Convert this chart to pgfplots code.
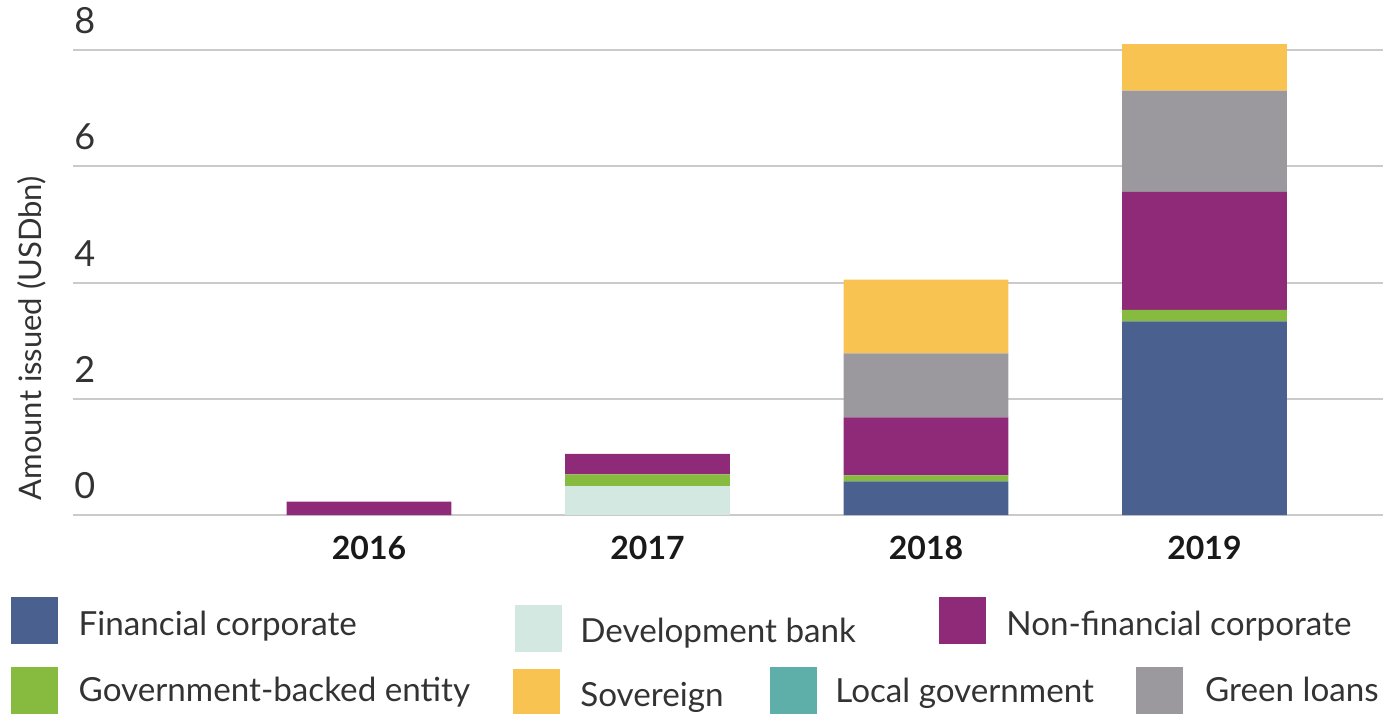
\documentclass[border=0pt]{standalone}
\usepackage{pgfplots}
\pgfplotsset{compat=1.18}
\usepackage{fontspec}
\setmainfont{Lato}

\definecolor{fincorp}{HTML}{4A6190}
\definecolor{devbank}{HTML}{D3E8E0}
\definecolor{nonfin}{HTML}{8E2A77}
\definecolor{govback}{HTML}{86BB3F}
\definecolor{sovereign}{HTML}{F9C352}
\definecolor{localgov}{HTML}{5EAEAA}
\definecolor{greenloan}{HTML}{9B989E}
\definecolor{gridgray}{HTML}{CACACA}
\definecolor{darktext}{HTML}{333333}

\newcommand{\legfont}{\fontsize{16.6}{19}\selectfont}

\begin{document}
\begin{tikzpicture}
\useasboundingbox (-36.5pt,-99.5pt) rectangle (655pt,257.5pt);
\begin{axis}[
    at={(0pt,0pt)}, anchor=south west,
    width=655pt, height=232.5pt, scale only axis,
    xmin=-0.063, xmax=4.641, ymin=0, ymax=8,
    clip=false,
    ybar stacked, bar width=0.592,
    axis line style={draw=none},
    major tick length=0pt,
    ytick={0,2,4,6,8},
    ymajorgrids, grid style={line width=1pt, gridgray},
    xtick={1,2,3,4}, xticklabels={2016,2017,2018,2019},
    xticklabel style={font=\fontsize{16}{19}\selectfont\bfseries, text=black!90,
        anchor=center, inner sep=0pt, yshift=-16.5pt},
    yticklabel style={font=\fontsize{18}{21}\selectfont, text=darktext,
        anchor=south west, inner sep=0pt, xshift=0.5pt, yshift=7.8pt},
    ylabel={Amount issued (USDbn)},
    ylabel style={font=\fontsize{15.5}{18}\selectfont, text=darktext,
        at={(axis description cs:-0.0313,0.38)}, anchor=center},
    /pgf/number format/assume math mode=true,
]
% 2016, 2017, 2018, 2019 at x = 1..4
\addplot[fill=fincorp, draw=none]   coordinates {(1,0) (2,0) (3,0.58) (4,3.33)};
\addplot[fill=devbank, draw=none]   coordinates {(1,0) (2,0.50) (3,0) (4,0)};
\addplot[fill=govback, draw=none]   coordinates {(1,0) (2,0.20) (3,0.10) (4,0.20)};
\addplot[fill=nonfin, draw=none]    coordinates {(1,0.23) (2,0.35) (3,1.00) (4,2.03)};
\addplot[fill=localgov, draw=none]  coordinates {(1,0) (2,0) (3,0) (4,0)};
\addplot[fill=greenloan, draw=none] coordinates {(1,0) (2,0) (3,1.10) (4,1.74)};
\addplot[fill=sovereign, draw=none] coordinates {(1,0) (2,0) (3,1.27) (4,0.80)};
\end{axis}

% legend, laid out as in the original
\begin{scope}[every node/.style={anchor=base west, inner sep=0pt, font=\legfont, text=darktext}]
\fill[fincorp]   (-31.2pt,-40.9pt) rectangle (-7.4pt,-64.5pt);
\node at (2.65pt,-60pt) {Financial corporate};
\fill[devbank]   (221pt,-45pt) rectangle (244.4pt,-68.4pt);
\node at (253.5pt,-63.9pt) {Development bank};
\fill[nonfin]    (433pt,-40.9pt) rectangle (456.7pt,-64.5pt);
\node at (466.5pt,-60pt) {Non-financial corporate};
\fill[govback]   (-31.2pt,-75.9pt) rectangle (-7.4pt,-99.5pt);
\node at (2.65pt,-93.4pt) {Government-backed entity};
\fill[sovereign] (220pt,-77pt) rectangle (243.5pt,-99.5pt);
\node at (253.5pt,-95.9pt) {Sovereign};
\fill[localgov]  (348.5pt,-75.9pt) rectangle (371.9pt,-99.5pt);
\node at (381pt,-93.9pt) {Local government};
\fill[greenloan] (531.5pt,-76pt) rectangle (555pt,-99.5pt);
\node at (565.9pt,-93.4pt) {Green loans};
\end{scope}
\end{tikzpicture}
\end{document}
